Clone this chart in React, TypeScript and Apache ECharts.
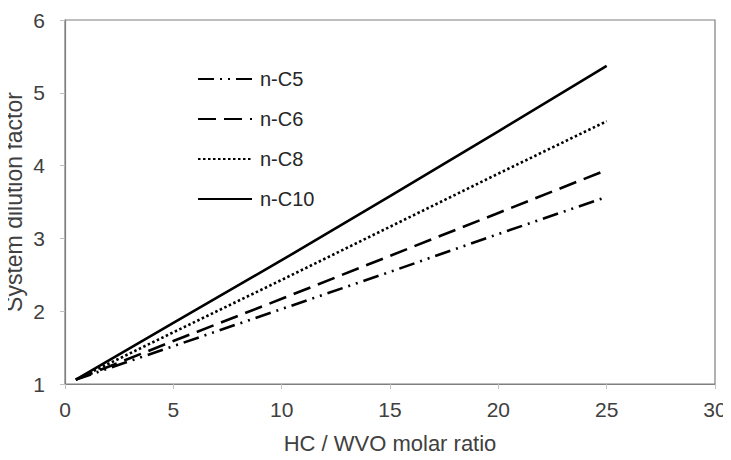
import React, { useEffect, useRef } from "react";
import * as echarts from "echarts";

const xValues = [0.5, 5, 10, 15, 20, 25];
const seriesNames = ["n-C5", "n-C6", "n-C8", "n-C10"];
const nC5 = [1.06, 1.52, 2.03, 2.54, 3.06, 3.57];
const nC6 = [1.06, 1.59, 2.17, 2.76, 3.35, 3.94];
const nC8 = [1.06, 1.71, 2.43, 3.16, 3.89, 4.61];
const nC10 = [1.06, 1.84, 2.70, 3.58, 4.47, 5.37];
const xTicks = { min: 0, max: 30, interval: 5 };
const yTicks = { min: 1, max: 6, interval: 1 };

const dashes: (number[] | "solid")[] = [
  [16, 6, 2, 6, 2, 6],
  [18, 8],
  [2.5, 2.5],
  "solid",
];

export default function App() {
  const ref = useRef<HTMLDivElement>(null);
  useEffect(() => {
    if (!ref.current) return;
    const chart = echarts.init(ref.current, undefined, { renderer: "svg" });
    const all = [nC5, nC6, nC8, nC10];
    const font = "Liberation Sans, Arial, sans-serif";
    chart.setOption({
      animation: false,
      backgroundColor: "#ffffff",
      grid: {
        left: 65,
        right: 16,
        top: 20,
        bottom: 76,
        show: true,
        containLabel: false,
        outerBoundsMode: "none",
        borderColor: "#7f7f7f",
        borderWidth: 1.2,
      },
      legend: {
        orient: "vertical",
        left: 192,
        top: 64,
        itemWidth: 54,
        itemHeight: 14,
        itemGap: 20,
        data: seriesNames,
        itemStyle: { opacity: 0 },
        textStyle: { fontSize: 20, color: "#262626", fontFamily: font, padding: [0, 0, 0, 3] },
      },
      xAxis: {
        type: "value",
        min: xTicks.min,
        max: xTicks.max,
        interval: xTicks.interval,
        name: "HC / WVO molar ratio",
        nameLocation: "middle",
        nameGap: 48,
        nameMoveOverlap: false,
        nameTextStyle: { fontSize: 22, color: "#404040", fontFamily: font },
        axisLine: { show: true, lineStyle: { color: "#7f7f7f", width: 1.2 } },
        axisTick: { show: true, length: 5, lineStyle: { color: "#bfbfbf" } },
        axisLabel: { fontSize: 21, color: "#404040", fontFamily: font, margin: 15 },
        splitLine: { show: false },
      },
      yAxis: {
        type: "value",
        min: yTicks.min,
        max: yTicks.max,
        interval: yTicks.interval,
        name: "System dilution factor",
        nameLocation: "middle",
        nameGap: 40,
        nameMoveOverlap: false,
        nameTextStyle: { fontSize: 23, color: "#404040", fontFamily: font },
        axisLine: { show: true, lineStyle: { color: "#7f7f7f", width: 1.2 } },
        axisTick: { show: true, length: 5, lineStyle: { color: "#bfbfbf" } },
        axisLabel: { fontSize: 21, color: "#404040", fontFamily: font, margin: 20 },
        splitLine: { show: false },
      },
      series: seriesNames.map((name, i) => ({
        name,
        type: "line",
        symbol: "none",
        data: xValues.map((x, j) => [x, all[i][j]]),
        lineStyle: { color: "#000000", width: 2.6, type: dashes[i] },
        itemStyle: { color: "#000000" },
      })),
    });
    return () => chart.dispose();
  }, []);
  return <div ref={ref} style={{ width: 731, height: 460, margin: -8 }} />;
}
